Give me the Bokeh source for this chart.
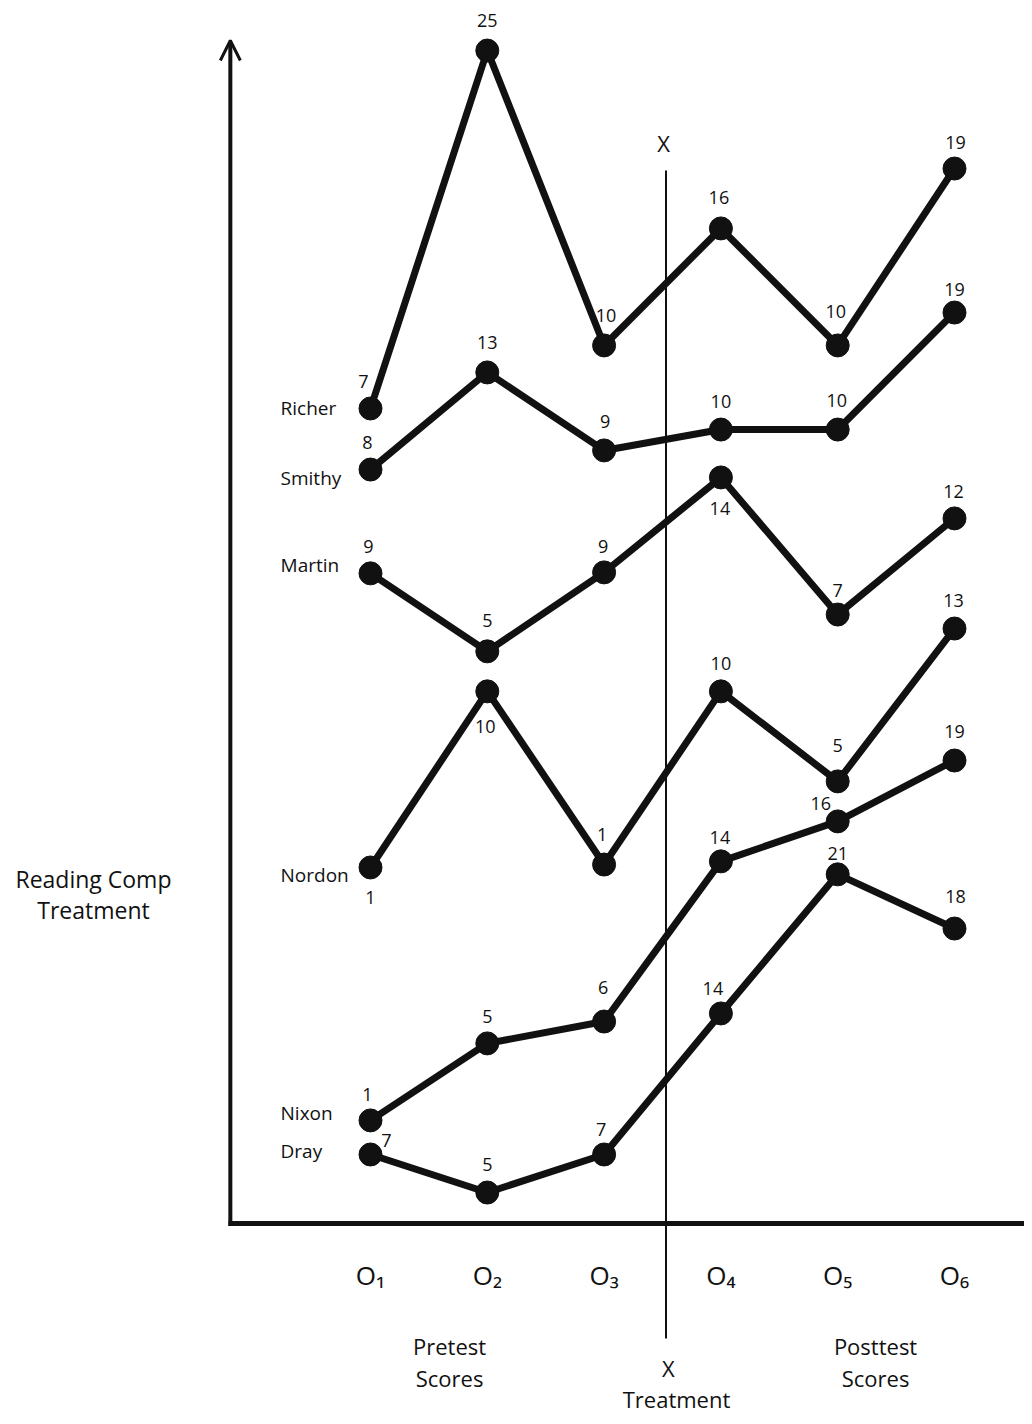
from bokeh.plotting import figure
from bokeh.models import ColumnDataSource, Range1d, FixedTicker, Arrow, OpenHead
from bokeh.core.properties import value
from bokeh.embed import file_html
from bokeh.resources import INLINE

# ---------------- data ----------------
occasions = ["O\u2081", "O\u2082", "O\u2083", "O\u2084", "O\u2085", "O\u2086"]
students = ["Richer", "Smithy", "Martin", "Nordon", "Nixon", "Dray"]

# reading-comprehension scores written next to each point
richer_scores = [7, 25, 10, 16, 10, 19]
smithy_scores = [8, 13, 9, 10, 10, 19]
martin_scores = [9, 5, 9, 14, 7, 12]
nordon_scores = [1, 10, 1, 10, 5, 13]
nixon_scores = [1, 5, 6, 14, 16, 19]
dray_scores = [7, 5, 7, 14, 21, 18]

# plotted height of each point above the horizontal axis
richer_level = [41.37, 59.54, 44.57, 50.51, 44.57, 53.55]
smithy_level = [38.27, 43.20, 39.24, 40.30, 40.30, 46.24]
martin_level = [33.00, 29.04, 33.05, 37.87, 30.91, 35.79]
nordon_level = [18.07, 27.01, 18.22, 27.01, 22.44, 30.20]
nixon_level = [5.23, 9.14, 10.25, 18.38, 20.41, 23.50]
dray_level = [3.50, 1.57, 3.50, 10.66, 17.72, 14.97]

scores = [richer_scores, smithy_scores, martin_scores, nordon_scores, nixon_scores, dray_scores]
levels = [richer_level, smithy_level, martin_level, nordon_level, nixon_level, dray_level]

# ---------------- layout / style ----------------
FONT = value("Open Sans")
INK = "#111111"

# label offsets in screen px (dx, dy) per point
label_dx = [
    [-7, 0, 2, -2, -2, 1],
    [-3, 0, 1, 0, -1, 0],
    [-2, 0, -1, -1, 0, -1],
    [0, -2, -2, 0, 0, -1],
    [-3, 0, -1, -1, -17, 0],
    [16, 0, -3, -8, 0, 1],
]
label_dy = [
    [-27, -30, -30, -31, -34, -26],
    [-27, -30, -29, -28, -29, -23],
    [-27, -31, -26, 31, -24, -27],
    [30, 35, -30, -28, -36, -28],
    [-26, -27, -34, -24, -18, -29],
    [-14, -28, -25, -25, -21, -32],
]
name_dy = [0, 8, -8, 8, -7, -3]
name_x = -0.77
y_axis_x = -1.2
treat_x = 2.53

p = figure(width=1024, height=1416, output_backend="svg", toolbar_location=None,
           x_range=Range1d(-3.1678, 5.5993), y_range=Range1d(-9.80, 62.08),
           min_border=0, outline_line_color=None, background_fill_color="white",
           border_fill_color="white")
p.grid.visible = False
p.yaxis.visible = False

xa = p.xaxis[0]
xa.fixed_location = 0
xa.bounds = (y_axis_x - 0.02, 5.6)
xa.ticker = FixedTicker(ticks=list(range(len(occasions))))
xa.major_label_overrides = {i: o for i, o in enumerate(occasions)}
xa.axis_line_width = 5
xa.axis_line_color = INK
xa.major_tick_line_color = None
xa.minor_tick_line_color = None
xa.major_label_standoff = 28
xa.major_label_text_font = "Open Sans"
xa.major_label_text_font_size = "26px"
xa.major_label_text_color = INK

# vertical axis with arrow
p.add_layout(Arrow(x_start=y_axis_x, y_start=-0.13, x_end=y_axis_x, y_end=60.05,
                   line_width=4, line_color=INK,
                   end=OpenHead(size=20, line_width=3, line_color=INK)))

# treatment line
p.segment(x0=[treat_x], y0=[-5.84], x1=[treat_x], y1=[53.45], line_width=2, line_color=INK)

xs = list(range(len(occasions)))
for i, name in enumerate(students):
    src = ColumnDataSource(dict(
        x=xs, y=levels[i], lab=[str(s) for s in scores[i]],
        dx=label_dx[i], dy=label_dy[i]))
    p.line("x", "y", source=src, line_width=7, line_color=INK, line_join="round")
    p.scatter("x", "y", source=src, size=23, fill_color=INK, line_color=INK)
    p.text("x", "y", text="lab", source=src, x_offset="dx", y_offset="dy",
           text_align="center", text_baseline="middle", text_font=FONT,
           text_font_size="18px", text_color=INK)
    p.text([name_x], [levels[i][0]], text=[name], y_offset=[name_dy[i]],
           text_align="left", text_baseline="middle", text_font=FONT,
           text_font_size="19px", text_color=INK)

# other annotations
ann_text = ["X", "X", "Pretest", "Scores", "Posttest", "Scores", "Treatment",
            "Reading Comp", "Treatment"]
ann_x = [2.51, 2.55, 0.677, 0.677, 4.324, 4.324, 2.62, -2.372, -2.372]
ann_y = [54.87, -7.36, -6.24, -7.87, -6.24, -7.87, -8.93, 17.51, 15.89]
p.text(ann_x[:7], ann_y[:7], text=ann_text[:7], text_align="center", text_baseline="middle",
       text_font=FONT, text_font_size="22px", text_color=INK)
p.text(ann_x[7:], ann_y[7:], text=ann_text[7:], text_align="center", text_baseline="middle",
       text_font=FONT, text_font_size="23px", text_color=INK)

open("out.html", "w").write(file_html(p, INLINE))
